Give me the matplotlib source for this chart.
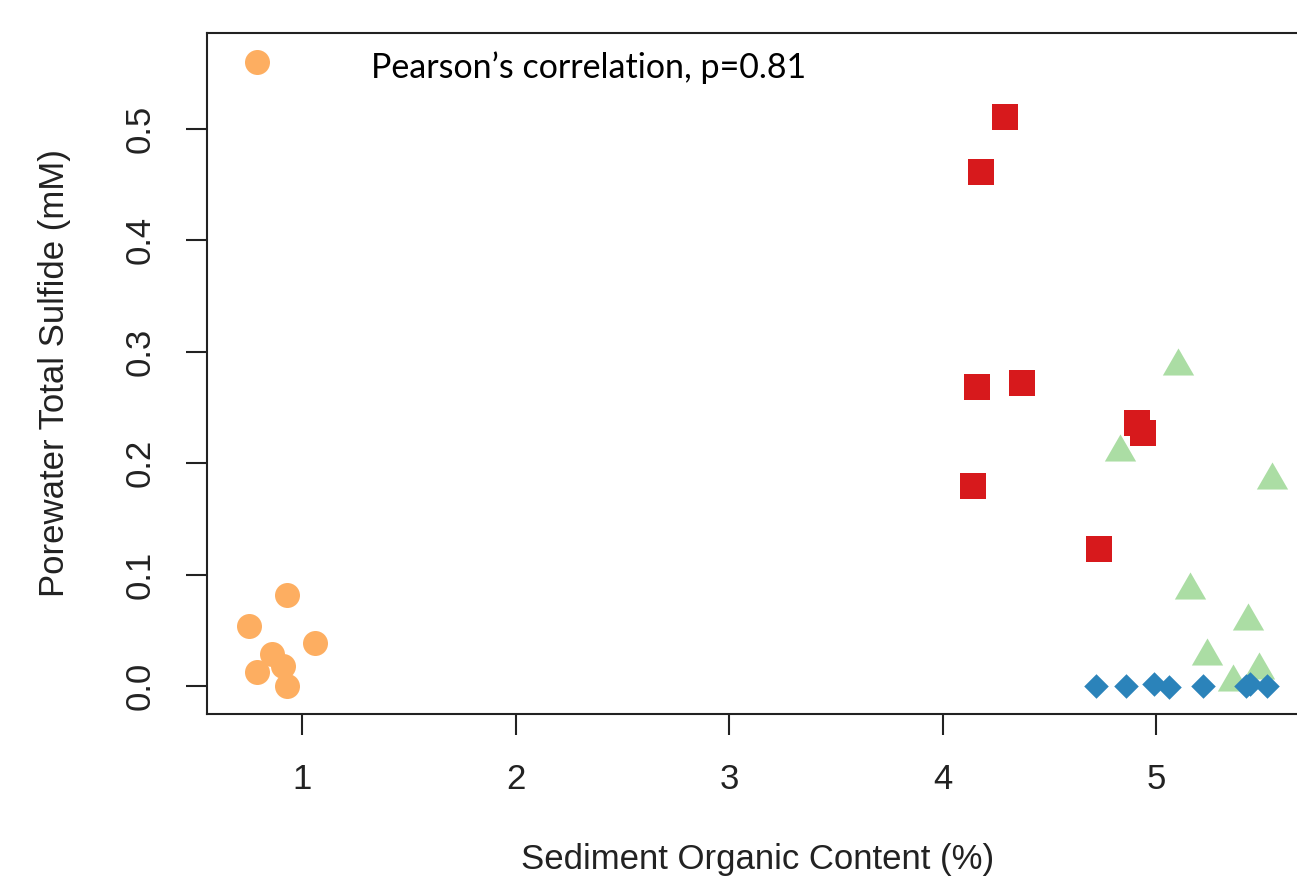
import matplotlib
matplotlib.use('Agg')
import matplotlib.pyplot as plt
import numpy as np

# sediment organic content (%) and porewater total sulfide (mM), by site group
orange_x = [0.79, 0.75, 0.93, 1.06, 0.86, 0.91, 0.79, 0.93]
orange_y = [0.560, 0.054, 0.082, 0.039, 0.029, 0.018, 0.013, 0.000]

red_x = [4.29, 4.18, 4.16, 4.37, 4.91, 4.94, 4.14, 4.73]
red_y = [0.510, 0.461, 0.268, 0.272, 0.236, 0.227, 0.179, 0.123]

green_x = [5.10, 4.83, 5.54, 5.16, 5.43, 5.24, 5.48, 5.36]
green_y = [0.287, 0.210, 0.185, 0.086, 0.058, 0.027, 0.014, 0.004]

blue_x = [4.72, 4.86, 4.99, 5.06, 5.22, 5.42, 5.44, 5.52]
blue_y = [0.000, 0.000, 0.002, -0.001, 0.000, 0.000, 0.002, 0.000]

plt.rcParams['font.family'] = ['Liberation Sans', 'DejaVu Sans']

fig = plt.figure(figsize=(12.97, 8.85), dpi=100)
ax = fig.add_axes([207 / 1297, 171 / 885, 1103 / 1297, 681 / 885])

tri = [(-1, -0.5774), (1, -0.5774), (0, 1.1547)]
ax.scatter(orange_x, orange_y, s=18 ** 2, marker='o', color='#FDAE61', linewidths=0)
ax.scatter(red_x, red_y, s=18.5 ** 2, marker='s', color='#D7191C', linewidths=0)
ax.scatter(green_x, green_y, s=26 ** 2, marker=tri, color='#ABDDA4', linewidths=0)
ax.scatter(blue_x, blue_y, s=12.5 ** 2, marker='D', color='#2B83BA', linewidths=0)

ax.set_xlim(0.555, 5.72)
ax.set_ylim(-0.0251, 0.5857)
ax.set_xticks([1, 2, 3, 4, 5])
ax.set_yticks([0.0, 0.1, 0.2, 0.3, 0.4, 0.5])
ax.set_yticklabels(['0.0', '0.1', '0.2', '0.3', '0.4', '0.5'], rotation=90, va='center')

for sp in ax.spines.values():
    sp.set_linewidth(1.5)
    sp.set_color('#222222')
ax.tick_params(direction='out', length=15, width=1.5, color='#222222',
               labelsize=25, labelcolor='#222222')
ax.tick_params(axis='x', pad=20)
ax.tick_params(axis='y', pad=21)

ax.set_xlabel('Sediment Organic Content (%)', fontsize=25, color='#222222')
ax.set_ylabel('Porewater Total Sulfide (mM)', fontsize=25, color='#222222')
ax.xaxis.set_label_coords((758 - 207) / 1103, -146 / 681)
ax.xaxis.label.set_va('center')
ax.yaxis.set_label_coords(-152 / 1103, 0.5)
ax.yaxis.label.set_va('center')

ax.text((371 - 207) / 1103, (714 - 68) / 681, 'Pearson\u2019s correlation, p=0.81',
        transform=ax.transAxes, fontsize=24.5, family=['Lato', 'DejaVu Sans'],
        ha='left', va='center', color='black')

fig.savefig('out.png', dpi=100)
